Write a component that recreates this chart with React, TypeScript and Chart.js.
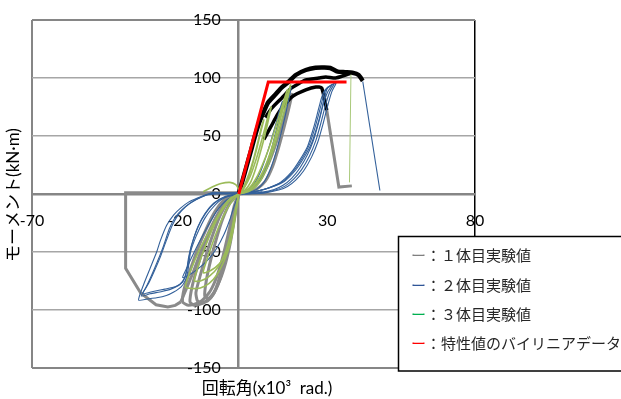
import React, { useEffect, useRef } from 'react';
import { Chart, registerables } from 'chart.js';

Chart.register(...registerables);

type Pt = [number, number];

// axis ticks
const xTicks = [-70, -20, 30, 80];
const yTicks = [-150, -100, -50, 0, 50, 100, 150];

// legend
const legendDash = 'ー';
const legendLabels = ['：１体目実験値', '：２体目実験値', '：３体目実験値', '：特性値のバイリニアデータ'];
const legendColors = ['#7f7f7f', '#2f5597', '#00b050', '#ff0000'];

const xTitle = '回転角(x10³  rad.)';
const yTitle = 'モーメント(kN·m)';

// 特性値のバイリニアデータ
const bilinear: Pt[] = [[0, 0], [10, 96.5], [36.5, 96.5]];

// 1体目 (black envelope part)
const s1Envelope: Pt[] = [[0, 0], [1, 9], [2, 18], [3, 27], [4, 36], [5.5, 50], [7, 62], [8.5, 71], [10, 79], [12.5, 86], [14.6, 92], [17, 97], [19.3, 102.6], [22.7, 106.9], [26, 108.8], [29, 109], [31, 108.6], [33.5, 105.5], [36, 105], [38.5, 104.5], [40.6, 102.6], [42, 97.5]];
const s1BlackLoop2: Pt[] = [[9, 66], [11.2, 74], [14.6, 82.8], [17.9, 91.4], [22.7, 98.3], [27.1, 100], [29.5, 100.9], [32.8, 100], [36.2, 102.6], [38, 104]];
const s1BlackLoop3: Pt[] = [[8.5, 47], [10, 54], [11.2, 59.5], [13, 68], [14.6, 74], [17.9, 83.6], [22.7, 89.7], [26.1, 92.2], [28.1, 91.4], [29.8, 72.4]];

// 1体目 (gray)
const s1Fail: Pt[] = [[0, 1], [-10, 1], [-20, 1], [-30, 1], [-38.3, 1], [-38.3, -64], [-33.2, -85.3], [-28, -95.5], [-24, -97.3], [-21.5, -96], [-19.6, -93]];
const s1Return: Pt[] = [[-19.6, -93], [-17.8, -82], [-15.2, -66], [-12, -44], [-8.5, -24], [-5, -9], [-2, -1.5], [0, 0]];
const s1LoopA: Pt[] = [[2, 3], [0, 0], [-1, -8], [-2.2, -22], [-3.4, -37], [-4.6, -52], [-5.8, -65], [-7, -76], [-8.5, -86], [-10.5, -92], [-12.5, -94], [-14, -92], [-14.5, -85], [-13, -70], [-11, -52], [-8.5, -33], [-6, -17], [-3.5, -6], [-1, 0], [2, 3]];
const s1LoopB: Pt[] = [[0, 0], [-1.5, -10], [-3, -28], [-4.5, -45], [-6, -60], [-8, -75], [-10, -85], [-13, -93], [-17, -96], [-19, -93], [-18.5, -82], [-16.5, -66], [-14, -48], [-11, -30], [-8, -15], [-5, -5], [-2, 0], [0, 1]];
const s1LoopC: Pt[] = [[0, 0], [-1.2, -14], [-2.5, -30], [-4, -50], [-5.5, -66], [-7, -78], [-8.5, -86], [-10, -90], [-11.5, -88], [-11, -75], [-9.5, -57], [-7.5, -38], [-5.5, -22], [-3, -8], [0, 0]];
const s1LoopE: Pt[] = [[0, 0], [-0.8, -12], [-1.8, -27], [-3, -44], [-4.5, -60], [-6.5, -75], [-9, -87], [-12, -94], [-15, -96], [-16.5, -93], [-15.8, -80], [-14, -63], [-11.5, -44], [-8.8, -27], [-6, -13], [-3, -4], [0, 0]];
const s1LoopD: Pt[] = [[0, 0], [3, 1], [6, 4], [9, 11], [11.5, 24], [13.5, 40], [15.3, 57], [16.8, 72], [18, 86], [17, 80], [15.5, 67], [13.8, 53], [12, 39], [10, 26], [7.5, 14], [4.5, 5], [2, 1], [0, 0]];
const s1Drop: Pt[] = [[29.8, 72.4], [33.9, 6], [38.3, 7]];

// 2体目 (blue)
const s2NegA: Pt[] = [[8, 2], [0, 1], [-5, 0.5], [-8.5, 1.5], [-11, -0.5], [-14, -3.5], [-17, -7], [-19.6, -12], [-22, -18], [-24.4, -27], [-26.5, -40], [-27.8, -50], [-30, -64], [-32.2, -78], [-33.9, -91.4], [-31, -90.5], [-27.8, -89.5], [-24.5, -87.5], [-22, -84.5], [-19.5, -80], [-18, -74], [-17.2, -66], [-16.3, -50], [-15, -40], [-13.5, -31], [-11.5, -21], [-9.5, -13.8], [-7, -7], [-5, -3.4], [-2, -0.5], [0, 0]];
const s2NegB: Pt[] = [[6, 1], [0, 1], [-6, 1], [-10, 0], [-13, -3], [-16, -7], [-19, -13], [-21.5, -20], [-23.5, -30], [-25.5, -45], [-27.5, -58], [-29.5, -70], [-31.5, -81], [-33, -88], [-30, -86], [-26, -84], [-23, -82], [-20, -78], [-18.3, -72], [-17.3, -62], [-16.5, -50], [-15.2, -38], [-13.8, -28], [-11.5, -17], [-8.5, -8], [-5, -2.5], [0, 0]];
const s2NegC: Pt[] = [[0, 0], [-7, 0], [-11, -1], [-14.5, -5], [-18, -11], [-20.5, -18], [-22.5, -27], [-24.5, -40], [-26.5, -54], [-28.5, -66], [-30.5, -77], [-32.5, -86], [-29, -84], [-25, -82], [-21.5, -80], [-19, -76], [-17.8, -68], [-17, -55], [-16, -44], [-14.5, -33], [-12.5, -22], [-9.5, -11], [-6, -4], [0, 0]];
const s2NegD: Pt[] = [[0, 0], [-1.5, -10], [-3, -22], [-5, -35], [-7.5, -47], [-10.5, -57], [-14, -65], [-17, -70], [-19, -72], [-18, -66], [-16, -55], [-13.5, -42], [-10.5, -28], [-7.5, -15], [-4, -5], [0, 0]];
const s2PosA: Pt[] = [[0, 0], [5, 0.3], [9, 1], [13.5, 3.4], [16.5, 6.5], [19.3, 12], [22, 20], [24.7, 32], [26.8, 45], [28.5, 60], [30, 75], [31.5, 88], [33, 96], [31.5, 94], [30, 91], [29, 83], [27.8, 70], [26.5, 58], [24.7, 44], [22, 31], [19.3, 20.7], [15.5, 11], [11.2, 6], [7, 3], [3, 1], [0, 0]];
const s2PosB: Pt[] = [[0, 0], [4.5, 0.4], [8.3, 1.2], [12.7, 3.6], [15.8, 7], [18.6, 12.8], [21.3, 21], [24, 33], [26.1, 46], [27.8, 61], [29.3, 76], [30.8, 88], [32.3, 95], [30.8, 93], [29.3, 89], [28.3, 81], [27.1, 69], [25.8, 57], [24, 43], [21.3, 30], [18.6, 20], [14.8, 10.5], [10.5, 5.5], [6.5, 2.6], [2.5, 0.8], [0, 0]];
const s2PosC: Pt[] = [[0, 0], [4, 0.5], [7.6, 1.4], [12, 3.9], [15, 7.5], [17.9, 13.5], [20.6, 22], [23.3, 34], [25.4, 47], [27.1, 62], [28.6, 77], [30.1, 88], [31.6, 94], [30.1, 92], [28.6, 87], [27.6, 79], [26.4, 67], [25.1, 55], [23.3, 41], [20.6, 29], [17.9, 19], [14.1, 10], [9.8, 5], [6, 2.3], [2, 0.6], [0, 0]];
const s2InnerA: Pt[] = [[0, 0], [3, 1], [6, 4], [8.5, 10], [10.5, 20], [12.5, 35], [14.3, 52], [15.8, 68], [17, 82], [17.8, 92], [16.8, 85], [15.5, 72], [14, 58], [12.5, 44], [11, 32], [9.5, 22], [7.5, 12], [5, 5], [2.5, 1.5], [0, 0]];
const s2InnerB: Pt[] = [[0, 0], [3, 1.5], [5.5, 6], [7.5, 14], [9.5, 26], [11.2, 40], [12.7, 55], [14, 69], [14.8, 80], [13.8, 72], [12.3, 58], [10.8, 45], [9.2, 32], [7.5, 20], [5.5, 10], [3, 3], [0, 0]];
const s2Drop: Pt[] = [[42, 97], [47.8, 3]];

// 3体目 (green)
const s3PosA: Pt[] = [[0, 0], [2, 1], [4, 3], [6, 7], [8, 14], [10, 25], [12, 40], [13.8, 56], [15.3, 70], [16.6, 83], [17.6, 94], [16.8, 88], [15.5, 78], [14, 64], [12.5, 50], [11, 37], [9.2, 25], [7, 14], [4.5, 6], [2, 2], [0, 0]];
const s3PosB: Pt[] = [[0, 0], [2.5, 2], [5, 6], [7.5, 15], [9.5, 27], [11.5, 42], [13.3, 58], [15, 74], [16.5, 90], [15.2, 80], [13.5, 66], [11.8, 52], [10, 38], [8, 25], [6, 14], [3.5, 5], [0, 0]];
const s3PosC: Pt[] = [[0, 0], [2, 3], [4, 10], [5.5, 20], [7, 33], [8.5, 47], [9.8, 61], [11, 75], [10, 68], [8.8, 56], [7.3, 42], [5.8, 29], [4, 16], [2, 6], [0, 0]];
const s3PosD: Pt[] = [[0, 0], [1.5, 4], [3, 12], [4.5, 24], [6, 38], [7.3, 52], [8.5, 64], [7.6, 57], [6.4, 44], [5, 30], [3.4, 17], [1.6, 6], [0, 0]];
const s3NegA: Pt[] = [[0, 0], [-0.8, -12], [-1.7, -28], [-3, -44], [-5, -58], [-7.5, -70], [-10, -77], [-13, -81], [-16, -81.5], [-18, -80], [-17.5, -74], [-16, -64], [-14, -52], [-11.9, -41], [-9.5, -30], [-7.5, -20.7], [-5, -10], [-2.7, -3.4], [0, 0]];
const s3NegB: Pt[] = [[0, 0], [-1.2, -15], [-2.5, -32], [-4.5, -50], [-7, -63], [-10, -71], [-13, -75], [-15, -75], [-14.2, -66], [-12.5, -53], [-10.2, -38], [-7.6, -23], [-4.8, -11], [-2, -3], [0, 0]];
const s3NegC: Pt[] = [[0, 0], [-1, -16], [-2.2, -34], [-4, -50], [-6.5, -60], [-9.5, -66], [-12, -68], [-11.2, -60], [-9.5, -47], [-7.5, -33], [-5, -18], [-2.5, -7], [0, 0]];
const s3Lobe: Pt[] = [[-12, 2], [-9, 6], [-6, 9], [-3, 10], [-1, 8], [0, 4], [0.5, 0]];
const s3Drop: Pt[] = [[38, 103], [37.5, 10]];

const GRAY = '#8a8a8a';
const BLUE = '#33609a';
const GREEN = '#9bbb59';

const toXY = (a: Pt[]) => a.map(([x, y]) => ({ x, y }));

function ds(data: Pt[], color: string, width: number, tension: number) {
  return {
    data: toXY(data),
    borderColor: color,
    backgroundColor: color,
    borderWidth: width,
    showLine: true,
    pointRadius: 0,
    pointHoverRadius: 0,
    tension,
    fill: false,
  };
}

const overlayPlugin = {
  id: 'overlay',
  afterDraw(chart: any) {
    const ctx = chart.ctx as CanvasRenderingContext2D;
    ctx.save();
    // legend box
    ctx.fillStyle = '#ffffff';
    ctx.fillRect(398, 236.5, 230, 134.5);
    ctx.strokeStyle = '#000000';
    ctx.lineWidth = 1.5;
    ctx.strokeRect(398.5, 236.5, 230, 134.5);
    ctx.font = '15px "Noto Sans CJK JP"';
    ctx.textBaseline = 'middle';
    ctx.textAlign = 'left';
    const rows = [255, 285, 314, 343];
    legendLabels.forEach((label, i) => {
      const x0 = 411;
      ctx.fillStyle = legendColors[i];
      ctx.fillText(legendDash, x0, rows[i]);
      const w = ctx.measureText(legendDash).width;
      ctx.fillStyle = '#262626';
      ctx.fillText(label, x0 + w, rows[i]);
    });
    // axis titles
    ctx.fillStyle = '#000000';
    ctx.font = '17px Lato, "Noto Sans CJK JP"';
    ctx.textAlign = 'center';
    ctx.textBaseline = 'middle';
    ctx.fillText(xTitle, 267, 389);
    ctx.translate(14, 195);
    ctx.rotate(-Math.PI / 2);
    ctx.fillText(yTitle, 0, 0);
    ctx.restore();
  },
};

export default function App() {
  const ref = useRef<HTMLCanvasElement | null>(null);
  useEffect(() => {
    if (!ref.current) return;
    const datasets: any[] = [
      ds(bilinear, '#ff0000', 3, 0),
      ds(s3Drop, '#a9c97a', 1, 0),
      ds(s3PosA, GREEN, 1.6, 0.2),
      ds(s3PosB, GREEN, 1.6, 0.2),
      ds(s3PosC, GREEN, 1.6, 0.2),
      ds(s3PosD, GREEN, 1.6, 0.2),
      ds(s3NegA, GREEN, 1.6, 0.2),
      ds(s3NegB, GREEN, 1.6, 0.2),
      ds(s3NegC, GREEN, 1.6, 0.2),
      ds(s3Lobe, GREEN, 1.6, 0.2),
      ds(s2NegA, BLUE, 1.1, 0.2),
      ds(s2NegB, BLUE, 1.1, 0.2),
      ds(s2NegC, BLUE, 1.1, 0.2),
      ds(s2NegD, BLUE, 1.1, 0.2),
      ds(s2PosA, BLUE, 1.1, 0.2),
      ds(s2PosB, BLUE, 1.1, 0.2),
      ds(s2PosC, BLUE, 1.1, 0.2),
      ds(s2InnerA, BLUE, 1.1, 0.2),
      ds(s2InnerB, BLUE, 1.1, 0.2),
      ds(s2Drop, BLUE, 1.1, 0),
      ds(s1Envelope, '#000000', 4.5, 0.2),
      ds(s1BlackLoop2, '#000000', 3.5, 0.2),
      ds(s1BlackLoop3, '#000000', 3.5, 0.2),
      ds(s1Drop, GRAY, 3, 0),
      ds(s1Fail, GRAY, 3, 0),
      ds(s1Return, GRAY, 3, 0.2),
      ds(s1LoopA, GRAY, 3, 0.2),
      ds(s1LoopB, GRAY, 3, 0.2),
      ds(s1LoopC, GRAY, 3, 0.2),
      ds(s1LoopE, GRAY, 3, 0.2),
      ds(s1LoopD, GRAY, 3, 0.2),
    ];
    const tickFont = { family: 'Lato', size: 16 };
    const chart = new Chart(ref.current, {
      type: 'scatter',
      data: { datasets },
      options: {
        animation: false,
        responsive: false,
        events: [],
        layout: { padding: { left: 32, top: 20, right: 146, bottom: 31 } },
        plugins: { legend: { display: false }, tooltip: { enabled: false }, title: { display: false } },
        scales: {
          x: {
            type: 'linear',
            position: { y: 0 } as any,
            min: xTicks[0],
            max: xTicks[xTicks.length - 1],
            afterBuildTicks: (s: any) => { s.ticks = xTicks.map((v) => ({ value: v })); },
            ticks: { font: tickFont, color: '#000', padding: 17, maxRotation: 0 },
            grid: {
              drawTicks: false,
              lineWidth: (c: any) => (c.tick && c.tick.value === xTicks[xTicks.length - 1] ? 1.5 : 2),
              color: (c: any) => {
                const v = c.tick ? c.tick.value : null;
                if (v === xTicks[0]) return '#868686';
                if (v === xTicks[xTicks.length - 1]) return '#000000';
                return 'rgba(0,0,0,0)';
              },
            },
            border: { display: true, color: '#868686', width: 2.5 },
          },
          y: {
            type: 'linear',
            position: { x: 0 } as any,
            min: yTicks[0],
            max: yTicks[yTicks.length - 1],
            afterBuildTicks: (s: any) => { s.ticks = yTicks.map((v) => ({ value: v })); },
            ticks: { display: false },
            grid: {
              drawTicks: false,
              color: (c: any) => {
                const v = c.tick ? c.tick.value : null;
                if (v === yTicks[0] || v === yTicks[yTicks.length - 1]) return '#868686';
                return '#a6a6a6';
              },
              lineWidth: (c: any) => {
                const v = c.tick ? c.tick.value : null;
                if (v === yTicks[0] || v === yTicks[yTicks.length - 1]) return 2;
                return 1.5;
              },
            },
            border: { display: true, color: '#868686', width: 2.5 },
          },
          yl: {
            type: 'linear',
            position: { x: -6.1 } as any,
            min: yTicks[0],
            max: yTicks[yTicks.length - 1],
            afterBuildTicks: (s: any) => { s.ticks = yTicks.map((v) => ({ value: v })); },
            ticks: { font: tickFont, color: '#000' },
            grid: { display: false, drawTicks: false },
            border: { display: false },
          },
        },
      } as any,
      plugins: [overlayPlugin],
    });
    return () => chart.destroy();
  }, []);
  return (
    <div style={{ position: 'absolute', left: 0, top: 0, width: 621, height: 399, background: '#fff' }}>
      <canvas ref={ref} width={621} height={399} />
    </div>
  );
}
